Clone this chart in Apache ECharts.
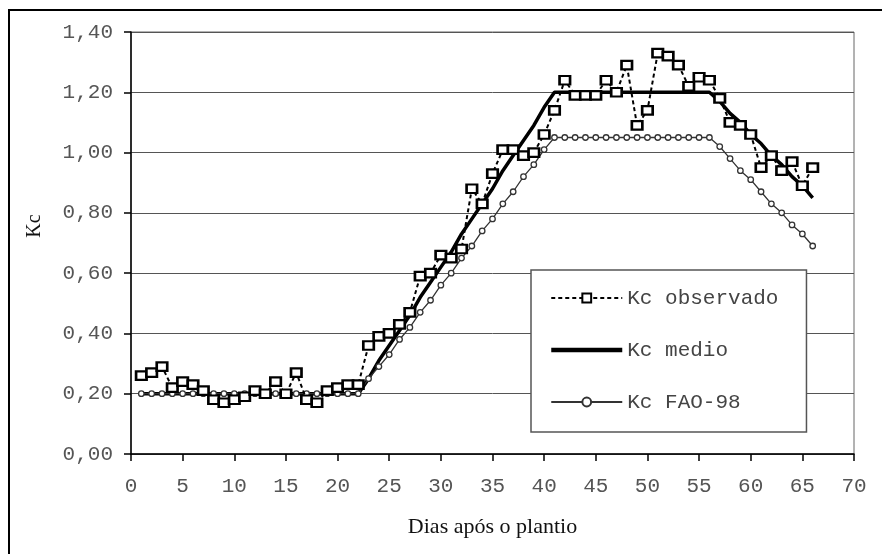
<!DOCTYPE html>
<html>
<head>
<meta charset="utf-8">
<script src="https://cdn.jsdelivr.net/npm/echarts@6/dist/echarts.min.js"></script>
<style>
html,body{margin:0;padding:0;background:#fff;}
#chart{width:882px;height:554px;}
</style>
</head>
<body>
<div id="chart"></div>
<script>
// Days after planting
var days = [1,2,3,4,5,6,7,8,9,10,11,12,13,14,15,16,17,18,19,20,21,22,23,24,25,26,27,28,29,30,31,32,33,34,35,36,37,38,39,40,41,42,43,44,45,46,47,48,49,50,51,52,53,54,55,56,57,58,59,60,61,62,63,64,65,66];
// Kc observado
var kcObservado = [0.26,0.27,0.29,0.22,0.24,0.23,0.21,0.18,0.17,0.18,0.19,0.21,0.20,0.24,0.20,0.27,0.18,0.17,0.21,0.22,0.23,0.23,0.36,0.39,0.40,0.43,0.47,0.59,0.60,0.66,0.65,0.68,0.88,0.83,0.93,1.01,1.01,0.99,1.00,1.06,1.14,1.24,1.19,1.19,1.19,1.24,1.20,1.29,1.09,1.14,1.33,1.32,1.29,1.22,1.25,1.24,1.18,1.10,1.09,1.06,0.95,0.99,0.94,0.97,0.89,0.95];
// Kc medio
var kcMedio = [0.20,0.20,0.20,0.20,0.20,0.20,0.20,0.20,0.20,0.20,0.20,0.20,0.20,0.20,0.20,0.20,0.20,0.20,0.20,0.20,0.20,0.20,0.25,0.31,0.36,0.41,0.46,0.52,0.57,0.62,0.67,0.73,0.78,0.83,0.88,0.94,0.99,1.04,1.09,1.15,1.20,1.20,1.20,1.20,1.20,1.20,1.20,1.20,1.20,1.20,1.20,1.20,1.20,1.20,1.20,1.20,1.17,1.13,1.10,1.06,1.03,0.99,0.96,0.92,0.89,0.85];
// Kc FAO-98
var kcFao = [0.20,0.20,0.20,0.20,0.20,0.20,0.20,0.20,0.20,0.20,0.20,0.20,0.20,0.20,0.20,0.20,0.20,0.20,0.20,0.20,0.20,0.20,0.25,0.29,0.33,0.38,0.42,0.47,0.51,0.56,0.60,0.65,0.69,0.74,0.78,0.83,0.87,0.92,0.96,1.01,1.05,1.05,1.05,1.05,1.05,1.05,1.05,1.05,1.05,1.05,1.05,1.05,1.05,1.05,1.05,1.05,1.02,0.98,0.94,0.91,0.87,0.83,0.80,0.76,0.73,0.69];
var seriesNames = ['Kc observado','Kc medio','Kc FAO-98'];
var xAxisTitle = 'Dias após o plantio';
var yAxisTitle = 'Kc';

function pairs(ys){ return days.map(function(d,i){ return [d, ys[i]]; }); }

var mono = 'Liberation Mono, Courier New, monospace';
var serif = 'Liberation Serif, Times New Roman, serif';

var chart = echarts.init(document.getElementById('chart'));
chart.setOption({
  animation: false,
  backgroundColor: '#fff',
  grid: { left: 131, right: 28, top: 32, bottom: 100, show: true, borderColor: '#666', borderWidth: 1, backgroundColor: 'transparent' },
  xAxis: {
    type: 'value', min: 0, max: 70, interval: 5,
    name: xAxisTitle, nameLocation: 'middle', nameGap: 62,
    nameTextStyle: { fontFamily: serif, fontSize: 22, color: '#111' },
    axisLine: { lineStyle: { color: '#000', width: 1.5 } },
    axisTick: { show: true, inside: false, length: 7, lineStyle: { color: '#000', width: 1.5 } },
    axisLabel: { margin: 22, fontFamily: mono, fontSize: 21, color: '#555' },
    splitLine: { show: false }
  },
  yAxis: {
    type: 'value', min: 0, max: 1.4, interval: 0.2,
    axisLine: { show: true, lineStyle: { color: '#000', width: 1.5 } },
    axisTick: { show: true, inside: false, length: 7, lineStyle: { color: '#000', width: 1.5 } },
    axisLabel: { margin: 18, fontFamily: mono, fontSize: 21, color: '#555',
      formatter: function(v){ return v.toFixed(2).replace('.', ','); } },
    splitLine: { show: true, lineStyle: { color: '#555', width: 1 } }
  },
  legend: {
    orient: 'vertical', left: 531, top: 270,
    data: [
      { name: seriesNames[0] },
      { name: seriesNames[1], itemStyle: { opacity: 0 }, lineStyle: { width: 4.5, color: '#000' } },
      { name: seriesNames[2] }
    ],
    backgroundColor: '#fff', borderColor: '#555', borderWidth: 1.5, borderRadius: 0,
    padding: [17, 28, 19, 18],
    itemWidth: 71, itemHeight: 11, itemGap: 30,
    textStyle: { fontFamily: mono, fontSize: 21, color: '#444', lineHeight: 22 }
  },
  graphic: [
    { type: 'rect', shape: { x: 9, y: 10, width: 1200, height: 1200 }, style: { fill: 'none', stroke: '#000', lineWidth: 2 }, silent: true, z: 100 },
    { type: 'text', x: 35, y: 226, rotation: Math.PI / 2, style: { text: yAxisTitle, fontFamily: serif, fontSize: 20, fill: '#111', align: 'center', verticalAlign: 'middle' } }
  ],
  series: [
    {
      name: seriesNames[1], type: 'line', data: pairs(kcMedio), symbol: 'none', z: 2,
      lineStyle: { color: '#000', width: 3.5 }, itemStyle: { color: '#000' }
    },
    {
      name: seriesNames[2], type: 'line', data: pairs(kcFao), symbol: 'circle', symbolSize: 5.5, z: 3,
      lineStyle: { color: '#333', width: 1.3 },
      itemStyle: { color: '#fff', borderColor: '#333', borderWidth: 1.3 }
    },
    {
      name: seriesNames[0], type: 'line', data: pairs(kcObservado), symbol: 'rect', symbolSize: [10.5, 8.5], z: 4,
      lineStyle: { color: '#000', width: 2, type: [4, 3] },
      itemStyle: { color: '#fff', borderColor: '#000', borderWidth: 2.4 }
    }
  ]
});
</script>
</body>
</html>
